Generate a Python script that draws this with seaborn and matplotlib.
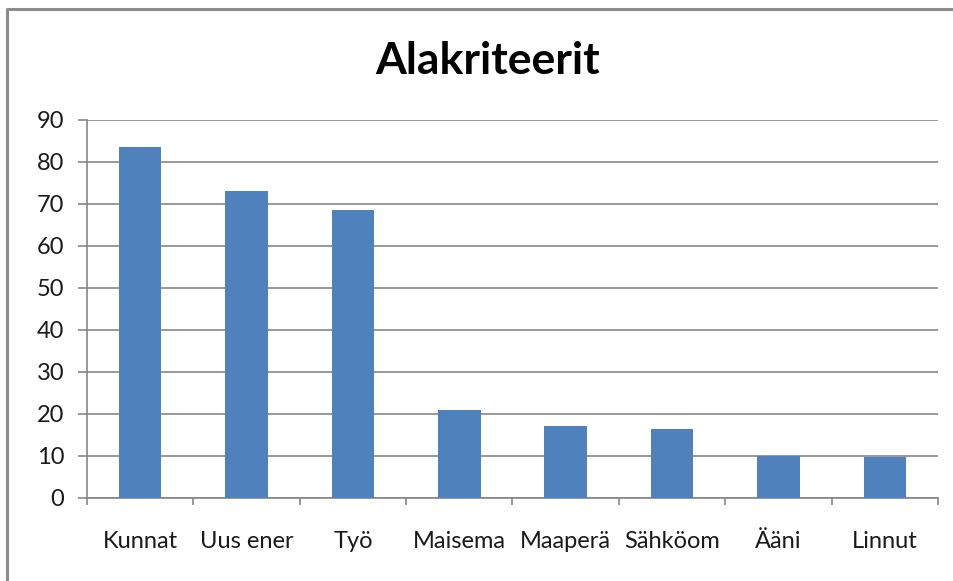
import numpy as np
import pandas as pd
import matplotlib
matplotlib.use("Agg")
import matplotlib.pyplot as plt
import seaborn as sns
from matplotlib.lines import Line2D

# data
kategoriat = ["Kunnat", "Uus ener", "Työ", "Maisema", "Maaperä", "Sähköom", "Ääni", "Linnut"]
arvot = [83.5, 73.0, 68.5, 21.0, 17.2, 16.5, 10.0, 9.8]
y_ticks = list(range(0, 100, 10))

df = pd.DataFrame({"kategoria": kategoriat, "arvo": arvot})

sns.set_theme(style="white")
plt.rcParams["font.family"] = ["Lato", "DejaVu Sans"]

fig = plt.figure(figsize=(9.54, 5.81), dpi=100)
ax = fig.add_axes([0.0912, 0.1429, 0.8920, 0.6506])

sns.barplot(data=df, x="kategoria", y="arvo", color="#4f81bd", width=0.4,
            saturation=1, linewidth=0, edgecolor="none", ax=ax, zorder=3)

ax.set_ylim(0, 90)
ax.set_xlim(-0.5, len(kategoriat) - 0.5)
ax.set_yticks(y_ticks)
ax.set_xlabel("")
ax.set_ylabel("")

ax.grid(axis="y", color="#868686", linewidth=1.2, zorder=0)
ax.set_axisbelow(True)

for s in ["top", "right"]:
    ax.spines[s].set_visible(False)
for s in ["left", "bottom"]:
    ax.spines[s].set_color("#868686")
    ax.spines[s].set_linewidth(1.2)

ax.tick_params(axis="y", direction="out", length=6.5, color="#868686", width=1.2,
               labelsize=17, pad=10, left=True, labelcolor="#1a1a1a")
ax.tick_params(axis="x", length=0, labelsize=17, pad=24, labelcolor="#1a1a1a")
ax.set_xticks(np.arange(-0.5, len(kategoriat)), minor=True)
ax.tick_params(axis="x", which="minor", direction="out", length=5,
               color="#868686", width=1.2, bottom=True)

fig.text(0.511, 0.895, "Alakriteerit", ha="center", va="center",
         fontsize=32, fontweight="bold", color="black")

# outer chart border (left and top edges visible)
fig.add_artist(Line2D([0.0075, 0.0075, 1.0], [0.0, 0.985, 0.985],
                      transform=fig.transFigure, color="#8c8c8c", linewidth=2.2))

fig.savefig("out.png", dpi=100)
